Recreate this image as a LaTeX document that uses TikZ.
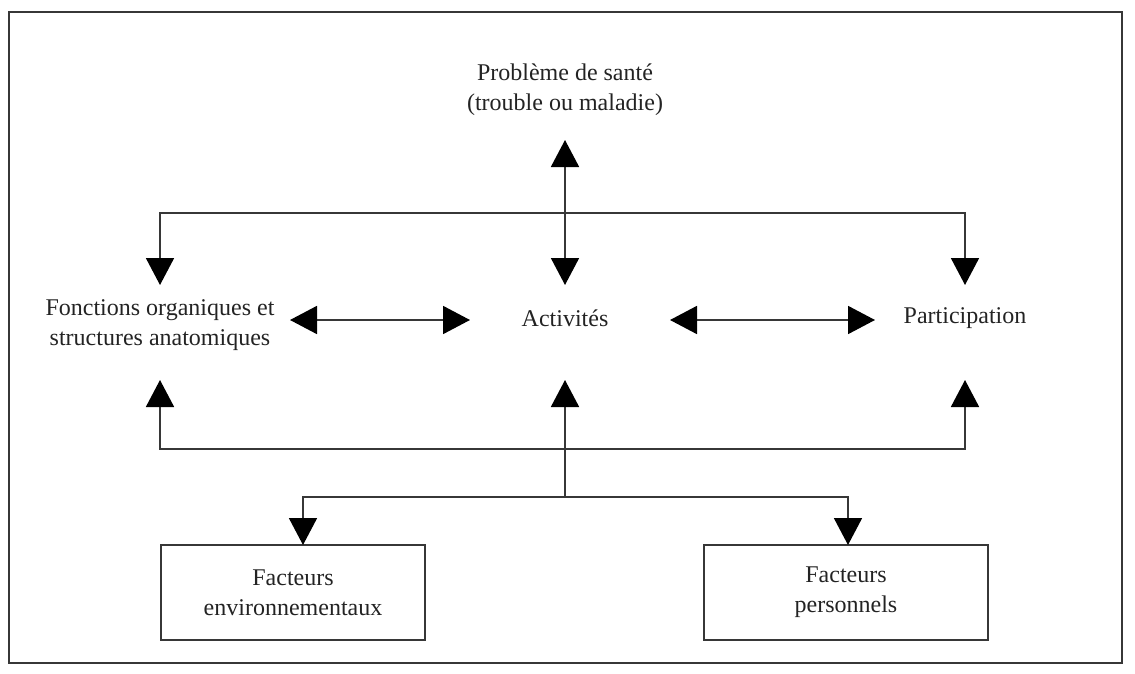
\documentclass[tikz,border=0pt]{standalone}
\usepackage{fontspec}
\setmainfont{Liberation Serif}
\usetikzlibrary{arrows.meta}
\definecolor{ink}{RGB}{35,35,35}
\definecolor{lineink}{RGB}{55,55,55}
\begin{document}
\begin{tikzpicture}[x=1pt,y=-1pt,
  lbl/.style={inner sep=0pt,align=center,text=ink,font=\fontsize{24}{30}\selectfont},
  boxnode/.style={draw=lineink,line width=1.8pt,minimum height=95pt,inner sep=0pt,align=center,text=ink,font=\fontsize{24}{30}\selectfont},
  conn/.style={draw=lineink,line width=1.8pt},
  bigtip/.tip={Triangle[width=28pt,length=27pt,color=black]}
]
\useasboundingbox (0,0) rectangle (1135,674);
\draw[lineink,line width=1.8pt] (9,12) rectangle (1122,663);

\node[lbl] (prob) at (565,90) {Problème de santé\\(trouble ou maladie)};
\node[lbl] (fonc) at (160,325) {Fonctions organiques et\\structures anatomiques};
\node[lbl] (act) at (565,318) {Activités};
\node[lbl] (part) at (965,318) {Participation};
\node[boxnode,minimum width=264pt] (env) at (293,592.5) {Facteurs\\environnementaux};
\node[boxnode,minimum width=284pt] (pers) at (846,592.5) {Facteurs\\personnels};

% arrow end points
\coordinate (probtip) at (565,140);
\coordinate (acttop) at (565,285);
\coordinate (foncttop) at (160,285);
\coordinate (parttop) at (965,285);
\coordinate (topbar) at (565,213);
\coordinate (foncbot) at (160,380);
\coordinate (actbot) at (565,380);
\coordinate (partbot) at (965,380);
\coordinate (botbar) at (565,449);
\coordinate (factbar) at (565,497);
\coordinate (fonceast) at (290,320);
\coordinate (actwest) at (470,320);
\coordinate (acteast) at (670,320);
\coordinate (partwest) at (875,320);
\coordinate (envtop) at (303,545);
\coordinate (perstop) at (848,545);

\draw[conn,{bigtip}-{bigtip}] (probtip) -- (acttop);
\draw[conn,{bigtip}-{bigtip}] (foncttop) |- (topbar) -| (parttop);
\draw[conn,{bigtip}-{bigtip}] (fonceast) -- (actwest);
\draw[conn,{bigtip}-{bigtip}] (acteast) -- (partwest);
\draw[conn,{bigtip}-{bigtip}] (foncbot) |- (botbar) -| (partbot);
\draw[conn,-{bigtip}] (factbar) -- (actbot);
\draw[conn,{bigtip}-{bigtip}] (envtop) |- (factbar) -| (perstop);
\end{tikzpicture}
\end{document}
